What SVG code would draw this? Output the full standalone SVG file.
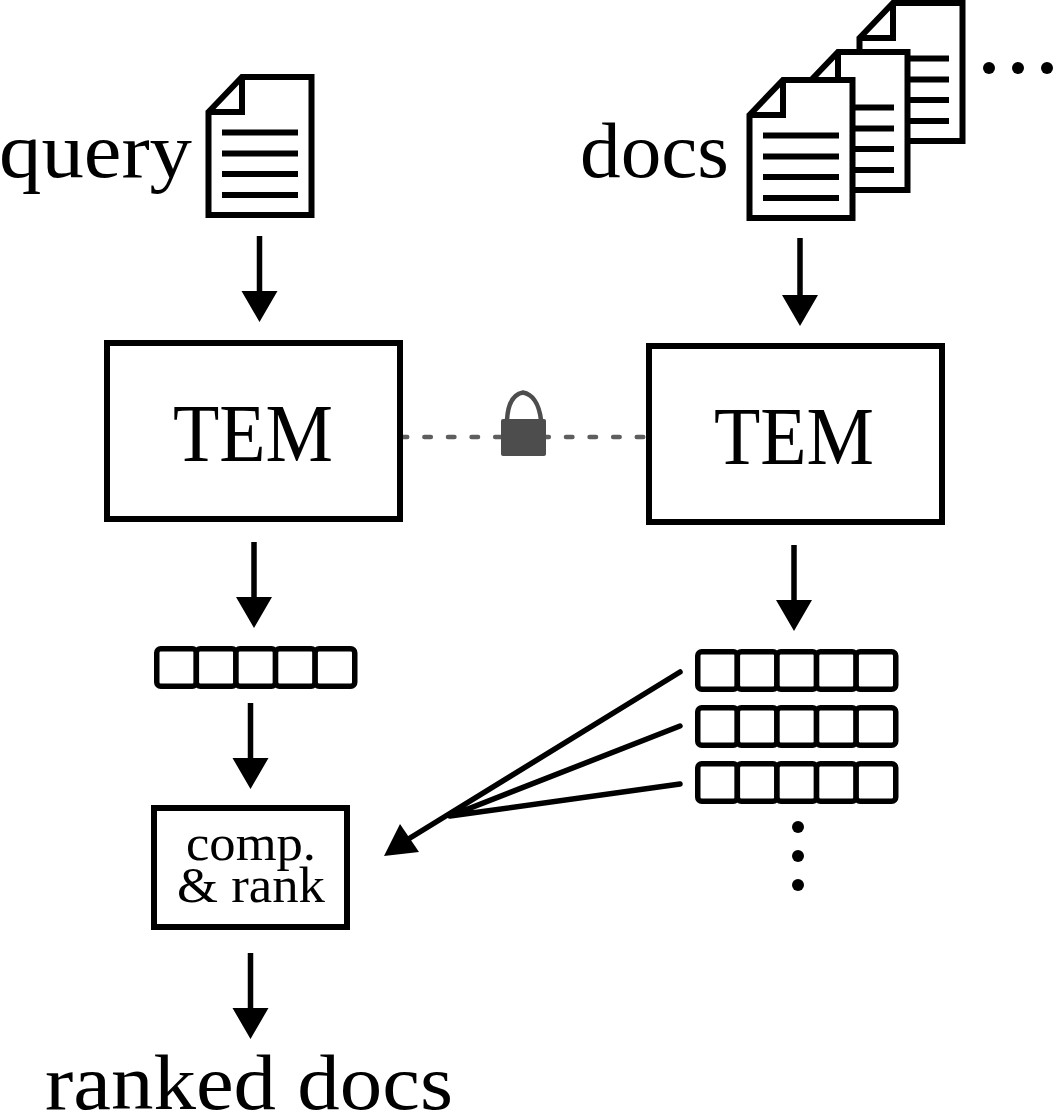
<svg xmlns="http://www.w3.org/2000/svg" width="1053" height="1112" viewBox="0 0 1053 1112">
<style>
text{font-family:"Liberation Serif","Times New Roman",serif;fill:#000}
.big{font-size:78px}
.tem{font-size:82px}
.small{font-size:50px}
.box{fill:#fff;stroke:#000;stroke-width:6}
.cell{fill:#fff;stroke:#000;stroke-width:5.5}
.doc{fill:#fff;stroke:#000;stroke-width:6}
.ln{fill:none;stroke:#000;stroke-width:6}
.conn{fill:none;stroke:#000;stroke-width:5.5}
.head{fill:#000;stroke:none}
.lock{fill:#4d4d4d}
</style>
<defs>
<g id="doc">
<path class="doc" d="M749.5 115L783 80H852.5V218H749.5Z"/>
<path class="ln" d="M783 80V115H749.5M763 135.5H839M763 156.500H839M763 177H839M763 198H839"/>
</g>
<g id="row">
<rect class="cell" x="0" y="0" width="39.600" height="37.500" rx="4"/>
<rect class="cell" x="39.600" y="0" width="39.600" height="37.500" rx="4"/>
<rect class="cell" x="79.200" y="0" width="39.600" height="37.500" rx="4"/>
<rect class="cell" x="118.800" y="0" width="39.600" height="37.500" rx="4"/>
<rect class="cell" x="158.400" y="0" width="39.600" height="37.500" rx="4"/>
</g>
</defs>
<rect width="1053" height="1112" fill="#fff"/>
<g id="connectors">
<path class="conn" d="M259.500 236V295M800 238V299M254 542V601M794 545V604M250.500 703V762M250.500 953V1012"/>
<path class="head" d="M241.500 291H277.500L259.500 322ZM782 295H818L800 326ZM236 597H272L254 628ZM776 600H812L794 631ZM232.500 758H268.500L250.500 789ZM232.500 1008H268.500L250.500 1039Z"/>
<path class="conn" stroke-linecap="round" d="M680 672L410 838M680 726L450 816M680 784L450 816"/>
<path class="head" d="M384 856L400 824L419 852Z"/>
<path d="M400.750 437H646" fill="none" stroke="#4d4d4d" stroke-width="4.500" stroke-linecap="round" stroke-dasharray="6.500 17.100" opacity=".9"/>
</g>
<g id="lock">
<path d="M507 420C508 403 514 394 523 392.500C532 394 539 403 541 420" fill="none" stroke="#4d4d4d" stroke-width="4.500"/>
<rect class="lock" x="501" y="419" width="45" height="37" rx="2"/>
</g>
<g id="query-doc"><use href="#doc" x="-541" y="-3"/></g>
<g id="query-label"><text class="big" x="-1" y="177" textLength="193" lengthAdjust="spacingAndGlyphs">query</text></g>
<g id="docs-stack">
<use href="#doc" x="110" y="-77"/>
<use href="#doc" x="55" y="-28"/>
<use href="#doc"/>
</g>
<g id="docs-label"><text class="big" x="580" y="177" textLength="149" lengthAdjust="spacingAndGlyphs">docs</text></g>
<g id="docs-more" fill="#000"><circle cx="989" cy="68" r="6"/><circle cx="1018" cy="68" r="6"/><circle cx="1047" cy="68" r="6"/></g>
<g id="tem-left">
<rect class="box" x="107" y="343" width="293" height="176"/>
<text class="tem" x="173" y="461" textLength="160" lengthAdjust="spacingAndGlyphs">TEM</text>
</g>
<g id="tem-right">
<rect class="box" x="649" y="346" width="293" height="176"/>
<text class="tem" x="714" y="464" textLength="160" lengthAdjust="spacingAndGlyphs">TEM</text>
</g>
<g id="query-vector"><use href="#row" x="156.750" y="648.750"/></g>
<g id="doc-vector-1"><use href="#row" x="697.750" y="651.750"/></g>
<g id="doc-vector-2"><use href="#row" x="697.750" y="707.750"/></g>
<g id="doc-vector-3"><use href="#row" x="697.750" y="763.750"/></g>
<g id="vector-more" fill="#000"><circle cx="798" cy="827" r="6"/><circle cx="798" cy="856" r="6"/><circle cx="798" cy="885" r="6"/></g>
<g id="compare-rank">
<rect class="box" x="154" y="808" width="193" height="119"/>
<text class="small" x="186" y="860" textLength="130" lengthAdjust="spacingAndGlyphs">comp.</text>
<text class="small" x="177" y="902" textLength="148" lengthAdjust="spacingAndGlyphs">&amp; rank</text>
</g>
<g id="ranked-docs"><text class="big" x="45" y="1109" textLength="408" lengthAdjust="spacingAndGlyphs">ranked docs</text></g>
</svg>
